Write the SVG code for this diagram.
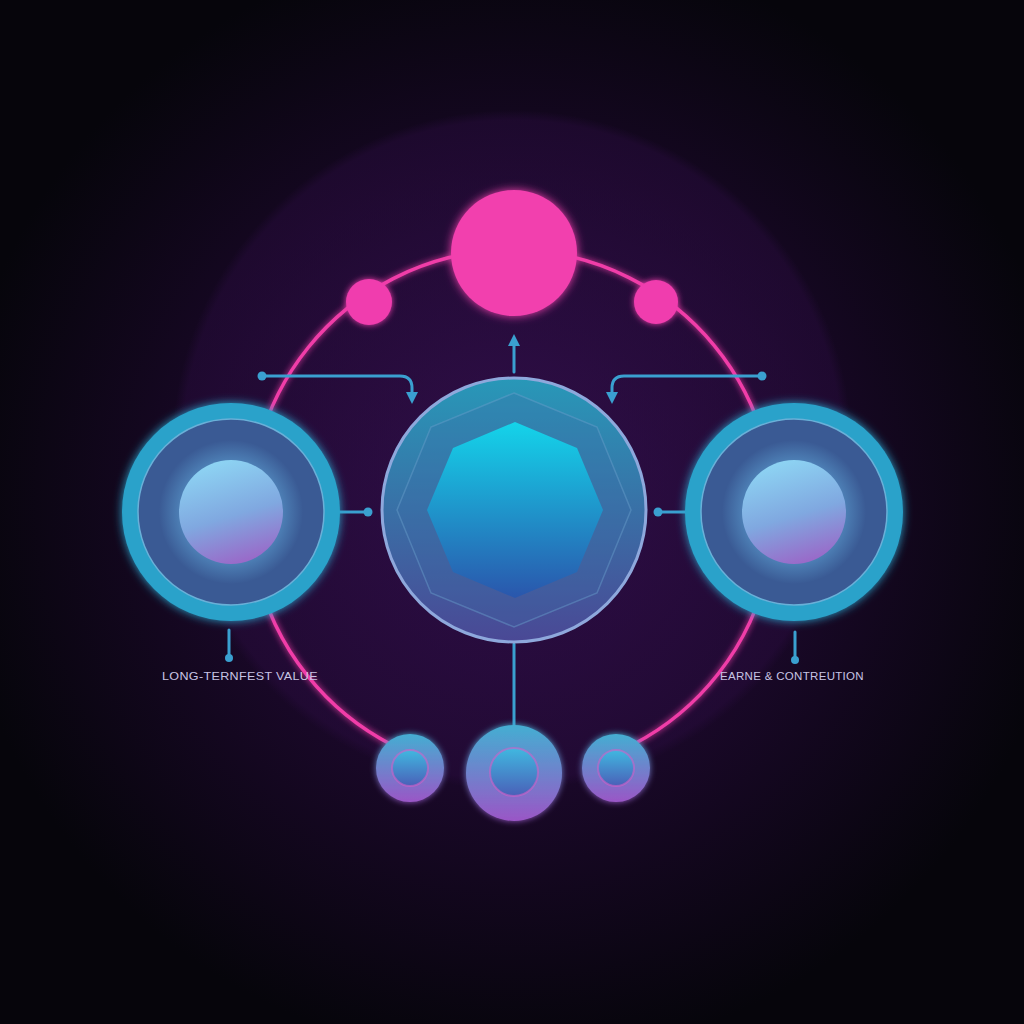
<svg xmlns="http://www.w3.org/2000/svg" width="1024" height="1024" viewBox="0 0 1024 1024">
<defs>
<radialGradient id="bg" cx="512" cy="500" r="560" gradientUnits="userSpaceOnUse">
<stop offset="0" stop-color="#2a0b42"/>
<stop offset="0.5" stop-color="#1a0829"/>
<stop offset="1" stop-color="#06050b"/>
</radialGradient>
<radialGradient id="halo" cx="512" cy="450" r="340" gradientUnits="userSpaceOnUse">
<stop offset="0" stop-color="#34104e" stop-opacity="0.55"/>
<stop offset="0.97" stop-color="#2a0c40" stop-opacity="0.45"/>
<stop offset="1" stop-color="#2a0c40" stop-opacity="0"/>
</radialGradient>
<linearGradient id="centerFill" x1="0" y1="0" x2="0" y2="1">
<stop offset="0" stop-color="#2898b8"/>
<stop offset="1" stop-color="#4a4895"/>
</linearGradient>
<linearGradient id="octFill" x1="0" y1="0" x2="0" y2="1">
<stop offset="0" stop-color="#14d4ea"/>
<stop offset="1" stop-color="#2a56ac"/>
</linearGradient>
<linearGradient id="sphere" x1="0.3" y1="0" x2="0.6" y2="1">
<stop offset="0" stop-color="#8ed6f4"/>
<stop offset="0.55" stop-color="#80a8e0"/>
<stop offset="1" stop-color="#9a68c8"/>
</linearGradient>
<radialGradient id="sphereGlow" cx="0.5" cy="0.5" r="0.5">
<stop offset="0.6" stop-color="#6ab8e8" stop-opacity="0.55"/>
<stop offset="1" stop-color="#6ab8e8" stop-opacity="0"/>
</radialGradient>
<linearGradient id="bottomFill" x1="0" y1="0" x2="0" y2="1">
<stop offset="0" stop-color="#44aed2"/>
<stop offset="1" stop-color="#9a56c6"/>
</linearGradient>
<linearGradient id="bottomInner" x1="0" y1="0" x2="0" y2="1">
<stop offset="0" stop-color="#40b8e0"/>
<stop offset="1" stop-color="#4a60b8"/>
</linearGradient>
<filter id="glow" x="-50%" y="-50%" width="200%" height="200%">
<feGaussianBlur stdDeviation="5" result="b"/>
<feMerge><feMergeNode in="b"/><feMergeNode in="SourceGraphic"/></feMerge>
</filter>
<filter id="softglow" x="-50%" y="-50%" width="200%" height="200%">
<feGaussianBlur stdDeviation="3" result="b"/>
<feMerge><feMergeNode in="b"/><feMergeNode in="SourceGraphic"/></feMerge>
</filter>
<marker id="arrowDown" viewBox="0 0 10 10" refX="5" refY="5" markerWidth="4" markerHeight="4" orient="auto">
<path d="M0,0 L10,5 L0,10 z" fill="#3aa0d0"/>
</marker>
</defs>
<style>
.blue { fill: none; stroke: #3aa0d0; stroke-width: 3; stroke-linecap: round; }
.dot { fill: #3aa0d0; }
.pink { fill: none; stroke: #f03ca8; stroke-width: 3.5; }
.label { font-family: "Liberation Sans", Arial, sans-serif; font-size: 11px; fill: #c8c4e4; letter-spacing: 0.3px; }
</style>
<rect width="1024" height="1024" fill="url(#bg)"/>
<circle cx="512" cy="450" r="340" fill="url(#halo)"/>

<g id="connectors">
<path class="pink" d="M392,745 A262,262 0 1 1 634,744" filter="url(#softglow)"/>
<path class="blue" d="M262,376 H400 Q412,376 412,388 V398" marker-end="url(#arrowDown)"/>
<circle class="dot" cx="262" cy="376" r="4.5"/>
<path class="blue" d="M762,376 H624 Q612,376 612,388 V398" marker-end="url(#arrowDown)"/>
<circle class="dot" cx="762" cy="376" r="4.5"/>
<path class="blue" d="M514,372 V340" marker-end="url(#arrowDown)"/>
<path class="blue" d="M340,512 H366"/>
<circle class="dot" cx="368" cy="512" r="4.5"/>
<path class="blue" d="M685,512 H660"/>
<circle class="dot" cx="658" cy="512" r="4.5"/>
<path class="blue" d="M229,630 V656"/>
<circle class="dot" cx="229" cy="658" r="4"/>
<path class="blue" d="M795,632 V658"/>
<circle class="dot" cx="795" cy="660" r="4"/>
<path class="blue" d="M514,644 V725"/>
</g>

<g id="node-top">
<circle cx="514" cy="253" r="63" fill="#f23fae" filter="url(#glow)"/>
</g>
<g id="node-top-left">
<circle cx="369" cy="302" r="23" fill="#f03cae" filter="url(#softglow)"/>
</g>
<g id="node-top-right">
<circle cx="656" cy="302" r="22" fill="#f03cae" filter="url(#softglow)"/>
</g>

<g id="node-center">
<circle cx="514" cy="510" r="132" fill="url(#centerFill)" stroke="#8ea8dc" stroke-width="3"/>
<polygon points="514,393 597,427 631,510 597,593 514,627 431,593 397,510 431,427" fill="#3a6aa8" fill-opacity="0.25" stroke="#6aa0cc" stroke-opacity="0.45" stroke-width="1.5"/>
<polygon points="515,422 577,448 603,510 577,572 515,598 453,572 427,510 453,448" fill="url(#octFill)"/>
</g>

<g id="node-left">
<circle cx="231" cy="512" r="109" fill="#2aa2ca" filter="url(#glow)"/>
<circle cx="231" cy="512" r="93" fill="#3a5a94" stroke="#6ab0d8" stroke-width="1.5"/>
<circle cx="231" cy="512" r="72" fill="url(#sphereGlow)"/>
<circle cx="231" cy="512" r="52" fill="url(#sphere)"/>
</g>

<g id="node-right">
<circle cx="794" cy="512" r="109" fill="#2aa2ca" filter="url(#glow)"/>
<circle cx="794" cy="512" r="93" fill="#3a5a94" stroke="#6ab0d8" stroke-width="1.5"/>
<circle cx="794" cy="512" r="72" fill="url(#sphereGlow)"/>
<circle cx="794" cy="512" r="52" fill="url(#sphere)"/>
</g>

<g id="node-bottom-left">
<circle cx="410" cy="768" r="34" fill="url(#bottomFill)" filter="url(#softglow)"/>
<circle cx="410" cy="768" r="18" fill="url(#bottomInner)" stroke="#d060c8" stroke-opacity="0.6" stroke-width="2"/>
</g>
<g id="node-bottom-center">
<circle cx="514" cy="773" r="48" fill="url(#bottomFill)" filter="url(#softglow)"/>
<circle cx="514" cy="772" r="24" fill="url(#bottomInner)" stroke="#d060c8" stroke-opacity="0.6" stroke-width="2"/>
</g>
<g id="node-bottom-right">
<circle cx="616" cy="768" r="34" fill="url(#bottomFill)" filter="url(#softglow)"/>
<circle cx="616" cy="768" r="18" fill="url(#bottomInner)" stroke="#d060c8" stroke-opacity="0.6" stroke-width="2"/>
</g>

<g id="labels">
<text class="label" x="162" y="680" textLength="156" lengthAdjust="spacingAndGlyphs">LONG-TERNFEST VALUE</text>
<text class="label" x="720" y="680" textLength="144" lengthAdjust="spacingAndGlyphs">EARNE &amp; CONTREUTION</text>
</g>
</svg>
